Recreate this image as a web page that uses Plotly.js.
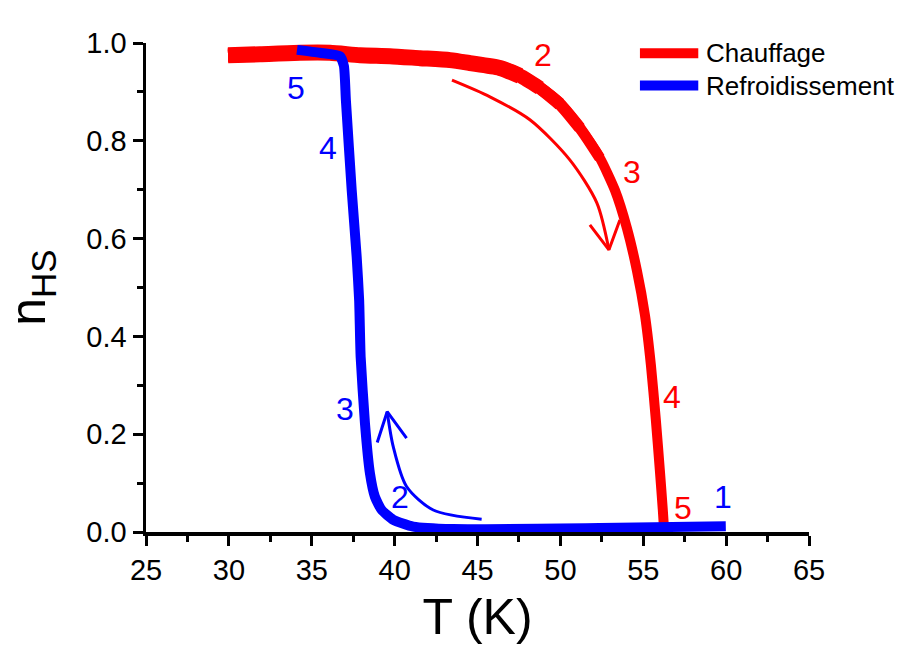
<!DOCTYPE html>
<html>
<head>
<meta charset="utf-8">
<script src="https://cdn.plot.ly/plotly-3.0.1.min.js"></script>
<style>html,body{margin:0;padding:0;background:#fff;}</style>
</head>
<body>
<div id="chart" style="width:900px;height:652px;"></div>
<script>
// ---- Data ----
const seriesNames = ["Chauffage", "Refroidissement"];
const seriesColors = ["#ff0000", "#0000ff"];

// Heating curve (Chauffage)
const T_heat = [29.95, 31.88, 34.29, 36.10, 37.91, 39.72, 41.53, 43.34, 44.54, 46.35, 47.56, 48.76, 49.97, 51.18, 52.38, 53.29, 54.01, 54.61, 55.10, 55.46, 55.76, 56.00, 56.18, 56.24];
const n_heat = [0.975, 0.977, 0.980, 0.980, 0.975, 0.973, 0.969, 0.965, 0.959, 0.949, 0.933, 0.908, 0.875, 0.826, 0.765, 0.699, 0.622, 0.536, 0.444, 0.342, 0.229, 0.127, 0.045, 0.014];

// Cooling curve (Refroidissement)
const T_cool = [59.98, 52.38, 43.53, 41.12, 39.92, 39.22, 38.81, 38.51, 38.21, 37.95, 37.86, 37.71, 37.41, 37.06, 36.94, 36.70, 35.49, 34.11];
const n_cool = [0.012, 0.008, 0.006, 0.011, 0.025, 0.045, 0.072, 0.120, 0.222, 0.358, 0.474, 0.563, 0.699, 0.883, 0.953, 0.973, 0.980, 0.986];

// Step labels along each curve
const heatLabels = ["1", "2", "3", "4", "5"];
const heatLabelT = [30.25, 48.94, 54.31, 56.72, 57.39];
const heatLabelN = [1.047, 0.975, 0.736, 0.276, 0.049];
const coolLabels = ["1", "2", "3", "4", "5"];
const coolLabelT = [59.80, 40.32, 37.00, 35.98, 34.05];
const coolLabelN = [0.072, 0.072, 0.252, 0.785, 0.908];

// Direction arrows (curve path + arrowhead arms)
const heatArrowT = [43.46, 45.75, 48.16, 50.57, 52.20, 52.93];
const heatArrowN = [0.924, 0.890, 0.843, 0.761, 0.673, 0.577];
const heatHeadT = [51.78, 52.93, 53.59];
const heatHeadN = [0.628, 0.577, 0.638];
const coolArrowT = [45.25, 42.33, 40.72, 39.92, 39.55];
const coolArrowN = [0.026, 0.045, 0.093, 0.174, 0.246];
const coolHeadT = [38.95, 39.55, 40.72];
const coolHeadN = [0.183, 0.246, 0.192];

// Axis ticks
const xTicks = [25, 30, 35, 40, 45, 50, 55, 60, 65];
const yTicks = [0.0, 0.2, 0.4, 0.6, 0.8, 1.0];

// ---- Build traces ----
const FONT = "Liberation Sans, Arial, Helvetica, sans-serif";

// The heating data are noisier (thicker band) at low T: overlay tapering copies of the same curve.
const taper = [[47.6, 16], [48.8, 14.5], [50.0, 13], [51.2, 12], [52.4, 11]];
const traces = [];
taper.forEach(([tMax, w]) => {
  const k = T_heat.findIndex(t => t > tMax + 0.01);
  traces.push({ x: T_heat.slice(0, k), y: n_heat.slice(0, k), mode: "lines",
    line: { color: seriesColors[0], width: w, shape: "spline", smoothing: 0.6 }, showlegend: false, hoverinfo: "skip" });
});
traces.push(
  { x: T_heat, y: n_heat, mode: "lines", name: seriesNames[0],
    line: { color: seriesColors[0], width: 10, shape: "spline", smoothing: 0.6 }, showlegend: false },
  { x: T_cool, y: n_cool, mode: "lines", name: seriesNames[1],
    line: { color: seriesColors[1], width: 10, shape: "spline", smoothing: 0.5 }, showlegend: false },
  { x: heatArrowT, y: heatArrowN, mode: "lines", line: { color: seriesColors[0], width: 3, shape: "spline", smoothing: 0.8 }, showlegend: false, hoverinfo: "skip" },
  { x: heatHeadT, y: heatHeadN, mode: "lines", line: { color: seriesColors[0], width: 3 }, showlegend: false, hoverinfo: "skip" },
  { x: coolArrowT, y: coolArrowN, mode: "lines", line: { color: seriesColors[1], width: 3, shape: "spline", smoothing: 0.8 }, showlegend: false, hoverinfo: "skip" },
  { x: coolHeadT, y: coolHeadN, mode: "lines", line: { color: seriesColors[1], width: 3 }, showlegend: false, hoverinfo: "skip" }
);

const annotations = [];
heatLabels.forEach((s, i) => annotations.push({ x: heatLabelT[i], y: heatLabelN[i], xref: "x", yref: "y", text: s,
  showarrow: false, font: { family: FONT, size: 32, color: seriesColors[0] } }));
coolLabels.forEach((s, i) => annotations.push({ x: coolLabelT[i], y: coolLabelN[i], xref: "x", yref: "y", text: s,
  showarrow: false, font: { family: FONT, size: 32, color: seriesColors[1] } }));

// Custom legend (long thick line samples, as in the reference)
const legendY = [0.979, 0.913];
const shapes = [];
seriesNames.forEach((name, i) => {
  shapes.push({ type: "line", xref: "paper", yref: "paper", x0: 0.745, x1: 0.833, y0: legendY[i], y1: legendY[i],
    line: { color: seriesColors[i], width: 10 } });
  annotations.push({ xref: "paper", yref: "paper", x: 0.841, y: legendY[i], xanchor: "left", yanchor: "middle",
    text: name, showarrow: false, font: { family: FONT, size: 26, color: "#000" } });
});

const axisCommon = {
  showline: true, linecolor: "#000", linewidth: 3.5, mirror: false,
  ticks: "outside", ticklen: 10, tickwidth: 3, tickcolor: "#000",
  showgrid: false, zeroline: false,
  tickfont: { family: FONT, size: 29, color: "#000" }
};

const layout = {
  width: 900, height: 652, autosize: false,
  paper_bgcolor: "#fff", plot_bgcolor: "#fff",
  margin: { l: 146, r: 91, t: 43, b: 120 },
  showlegend: false,
  xaxis: Object.assign({}, axisCommon, {
    range: [25, 65], tickvals: xTicks, ticktext: xTicks.map(String),
    minor: { ticks: "outside", ticklen: 6, tickwidth: 3, tickcolor: "#000", dtick: 2.5, tick0: 25, showgrid: false },
    title: { text: "T (K)", font: { family: FONT, size: 50, color: "#000" }, standoff: 14 }
  }),
  yaxis: Object.assign({}, axisCommon, {
    range: [0, 1], tickvals: yTicks, ticktext: yTicks.map(v => v.toFixed(1)),
    minor: { ticks: "outside", ticklen: 6, tickwidth: 3, tickcolor: "#000", dtick: 0.1, tick0: 0, showgrid: false },
    title: { text: "n<sub>HS</sub>", font: { family: FONT, size: 50, color: "#000" }, standoff: 26 }
  }),
  annotations: annotations,
  shapes: shapes
};

Plotly.newPlot("chart", traces, layout, { displayModeBar: false, staticPlot: true });
</script>
</body>
</html>
